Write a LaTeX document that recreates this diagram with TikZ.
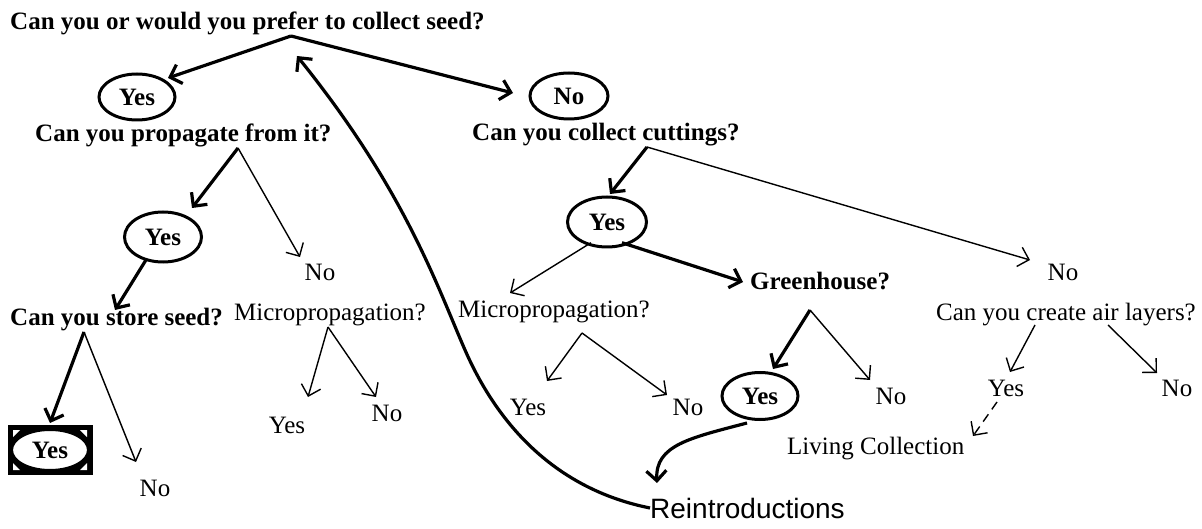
\documentclass[tikz,border=0pt]{standalone}
\usepackage{fontspec}
\setmainfont{Liberation Serif}
\newfontfamily\arialfont{Liberation Sans}
\usetikzlibrary{arrows.meta,shapes.geometric}

\begin{document}
\begin{tikzpicture}[x=1pt,y=-1pt,
  txt/.style={inner sep=0pt, anchor=base, font=\fontsize{25}{30}\selectfont},
  qst/.style={inner sep=0pt, anchor=base, font=\fontsize{25}{30}\selectfont\bfseries},
  oval/.style={ellipse, draw, line width=3pt, inner sep=0pt,
    font=\fontsize{25}{30}\selectfont\bfseries},
  heavy/.style={line width=3.2pt,
    -{Straight Barb[length=10pt,width=20pt,line width=3.2pt]}},
  light/.style={line width=1.4pt,
    -{Straight Barb[length=10pt,width=20pt,line width=1.4pt]}},
  dashlink/.style={light, dash pattern=on 9pt off 6pt},
]
\useasboundingbox (0,0) rectangle (1202,529);

% ---- questions and answers ----
\node[qst, anchor=base west] (q1) at (10,30) {Can you or would you prefer to collect seed?};
\node[oval, minimum width=76, minimum height=46] (yes1) at (137,97) {Yes};
\node[oval, minimum width=78, minimum height=46] (no1) at (569,96) {No};
\node[qst, anchor=base west] (q2) at (35,142) {Can you propagate from it?};
\node[qst, anchor=base west] (q3) at (472,141) {Can you collect cuttings?};

% seed branch
\node[oval, minimum width=77, minimum height=50] (yes2) at (163,237) {Yes};
\node[txt] (no2) at (320,281) {No};
\node[qst, anchor=base west] (q4) at (10,326) {Can you store seed?};
\node[txt] (micro1) at (330,320) {Micropropagation?};
\node[txt] (m1yes) at (287,433) {Yes};
\node[txt] (m1no) at (387,421) {No};
\node[fill=black, minimum width=85, minimum height=50, inner sep=0pt] (yes3box) at (50,450) {};
\fill[white] (13,430) -- (20,430) -- (13,437) -- cycle
             (87,430) -- (80,430) -- (87,437) -- cycle
             (13,470) -- (20,470) -- (13,463) -- cycle
             (87,470) -- (80,470) -- (87,463) -- cycle;
\node[ellipse, draw, fill=white, line width=2pt, inner sep=0pt,
  minimum width=76, minimum height=40,
  font=\fontsize{25}{30}\selectfont\bfseries] (yes3) at (50,450) {Yes};
\node[txt] (no3) at (155,496) {No};

% cuttings branch
\node[oval, minimum width=79, minimum height=50] (yes4) at (607,222) {Yes};
\node[txt] (micro2) at (554,317) {Micropropagation?};
\node[qst, anchor=base west] (green) at (750,290) {Greenhouse?};
\node[txt] (m2yes) at (528,415) {Yes};
\node[txt] (m2no) at (688,415) {No};
\node[oval, minimum width=76, minimum height=47] (yes5) at (760,396) {Yes};
\node[txt] (no5) at (891,404) {No};
\node[txt] (no4) at (1063,281) {No};
\node[txt] (air) at (1066,320) {Can you create air layers?};
\node[txt] (ayes) at (1006,396) {Yes};
\node[txt] (ano) at (1177,396) {No};
\node[txt, anchor=base west] (living) at (787,454) {Living Collection};
\node[inner sep=0pt, anchor=base west, font=\fontsize{28}{32}\selectfont\arialfont] (reint) at (650,518) {Reintroductions};

% ---- branch points and arrow ends ----
\coordinate (b1) at (291,36);
\coordinate (b2) at (238,148);
\coordinate (b3) at (647,147);
\coordinate (b4) at (84,332);
\coordinate (b5) at (328,327);
\coordinate (b6) at (582,333);
\coordinate (b7) at (810,310);
\coordinate (b8l) at (1035,325);
\coordinate (b8r) at (1108,325);
\coordinate (top) at (297,56);

\coordinate (t1) at (168,78);
\coordinate (t2) at (513,93);
\coordinate (t3) at (192,208);
\coordinate (t4) at (300,257);
\coordinate (t5) at (115,310);
\coordinate (t6) at (50,423);
\coordinate (t7) at (136,462);
\coordinate (t8) at (308,397);
\coordinate (t9) at (376,397);
\coordinate (t10) at (610,194);
\coordinate (t11) at (1030,260);
\coordinate (t12) at (510,293);
\coordinate (t13) at (743,282);
\coordinate (t14) at (547,381);
\coordinate (t15) at (667,395);
\coordinate (t16) at (773,369);
\coordinate (t17) at (870,380);
\coordinate (t18) at (1010,372);
\coordinate (t19) at (1157,373);
\coordinate (d1) at (997,402);
\coordinate (t20) at (973,436);
\coordinate (t21) at (657,483);

% ---- connectors ----
\draw[heavy] (b1) -- (t1);
\draw[heavy] (b1) -- (t2);
\draw[heavy] (b2) -- (t3);
\draw[light] (b2) -- (t4);
\draw[heavy] (yes2.south west) ++(12,3) coordinate (s2) -- (t5);
\draw[heavy] (b4) -- (t6);
\draw[light] (b4) -- (t7);
\draw[light] (b5) -- (t8);
\draw[light] (b5) -- (t9);
\draw[heavy] (b3) -- (t10);
\draw[light] (b3) -- (t11);
\draw[light] (yes4.south west) ++(13,2) coordinate (s4) -- (t12);
\draw[heavy] (yes4.south east) ++(-14,2) coordinate (s5) -- (t13);
\draw[light] (b6) -- (t14);
\draw[light] (b6) -- (t15);
\draw[heavy] (b7) -- (t16);
\draw[light] (b7) -- (t17);
\draw[light] (b8l) -- (t18);
\draw[light] (b8r) -- (t19);
\draw[dashlink] (d1) -- (t20);
\draw[heavy] (yes5.south) ++(-13,2) coordinate (s6)
  .. controls (690,438) and (655,445) .. (t21);
\draw[heavy] (reint.west) .. controls (560,490) and (500,430) .. (465,350)
  .. controls (437,286) and (405,190) .. (top);
\end{tikzpicture}
\end{document}
